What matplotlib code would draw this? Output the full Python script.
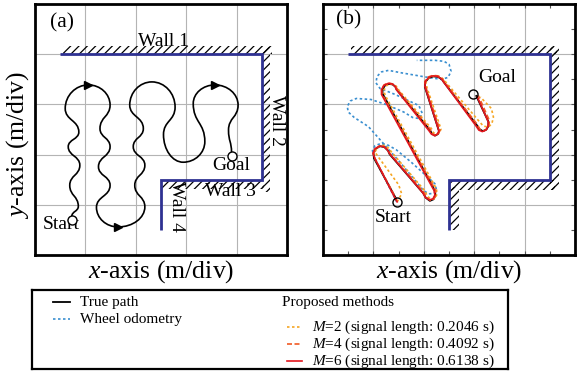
import matplotlib.pyplot as plt
from matplotlib.path import Path
from matplotlib.patches import PathPatch, Rectangle

plt.rcParams['font.family'] = ['Liberation Serif', 'DejaVu Serif']
plt.rcParams['mathtext.fontset'] = 'custom'
plt.rcParams['mathtext.rm'] = 'Liberation Serif'
plt.rcParams['mathtext.it'] = 'Liberation Serif:italic'
plt.rcParams['hatch.linewidth'] = 0.9

# walls (m/div), same layout in both panels
wall_x = [0.5, 4.5, 4.5, 2.5, 2.5]
wall_y = [4.0, 4.0, 1.5, 1.5, 0.5]

# (a) planned route, waypoints at the bulges / loop tops of the curve
# 'v' = vertical tangent at that point, 'h' = horizontal tangent
route_x = [0.73, 0.86, 0.69, 0.89, 0.66, 0.87, 0.60, 1.06, 1.49, 1.29, 1.49,
           1.26, 1.49, 1.22, 1.65, 2.18, 1.98, 2.18, 1.95, 2.15, 1.88, 2.32,
           2.78, 2.55, 2.94, 3.37, 3.14, 3.57, 4.03, 3.84, 3.90]
route_y = [0.77, 0.97, 1.39, 1.79, 2.16, 2.45, 2.92, 3.39, 2.99, 2.52, 2.16,
           1.76, 1.39, 0.95, 0.56, 0.96, 1.39, 1.79, 2.16, 2.52, 2.99, 3.45,
           2.95, 2.40, 1.85, 2.26, 3.02, 3.39, 2.99, 2.49, 2.04]
route_tan = "vvvvvvvhvvvvvvhvvvvvvhvvhvvhvvv"
arrow_idx = [7, 14, 27]
start_a = (0.73, 0.70)
goal_a = (3.90, 1.97)

# (b) experiment
true_x = [1.45, 1.01, 1.00, 1.05, 1.13, 1.22, 1.29, 1.32, 1.99, 2.04, 2.12,
          2.19, 2.23, 2.22, 1.18, 1.18, 1.23, 1.30, 1.38, 1.44, 1.46, 2.12,
          2.16, 2.22, 2.28, 2.30, 2.02, 2.03, 2.10, 2.19, 2.28, 2.36, 2.40,
          3.05, 3.10, 3.17, 3.24, 3.28, 3.28, 3.04]
true_y = [1.12, 1.93, 2.03, 2.12, 2.17, 2.15, 2.08, 2.01, 1.23, 1.14, 1.08,
          1.11, 1.19, 1.28, 3.22, 3.30, 3.38, 3.41, 3.40, 3.35, 3.30, 2.49,
          2.42, 2.38, 2.41, 2.47, 3.35, 3.45, 3.53, 3.56, 3.55, 3.50, 3.44,
          2.59, 2.51, 2.47, 2.50, 2.57, 2.66, 3.17]

odo_x = [1.46, 1.36, 1.18, 1.02, 0.98, 1.03, 1.14, 1.27, 1.45, 1.75, 2.08,
         2.22, 2.25, 2.20, 2.10, 2.00, 1.50, 0.90, 0.62, 0.50, 0.48, 0.54,
         0.66, 0.95, 1.25, 1.60, 1.78, 1.91, 1.97, 1.90, 1.43, 1.13, 1.05,
         1.07, 1.16, 1.30, 1.56, 2.02, 2.35, 2.48, 2.54, 2.50, 2.40, 2.22, 1.86]
odo_y = [1.06, 1.26, 1.62, 1.95, 2.08, 2.18, 2.22, 2.20, 2.10, 1.85, 1.55,
         1.42, 1.30, 1.23, 1.22, 1.28, 1.88, 2.56, 2.74, 2.85, 2.96, 3.07,
         3.12, 3.10, 3.00, 2.85, 2.74, 2.72, 2.82, 2.98, 3.20, 3.32, 3.43,
         3.56, 3.65, 3.68, 3.63, 3.55, 3.50, 3.54, 3.66, 3.80, 3.86, 3.88, 3.88]

m2_x = [1.47, 1.56, 1.50, 1.10, 1.03, 1.07, 1.15, 1.24, 1.31, 1.36, 2.02,
        2.07, 2.15, 2.22, 2.26, 2.25, 1.25, 1.20, 1.24, 1.31, 1.40, 1.47,
        1.50, 2.15, 2.19, 2.25, 2.31, 2.34, 2.06, 2.04, 2.10, 2.20, 2.30,
        2.38, 2.44, 3.10, 3.18, 3.28, 3.35, 3.38, 3.34, 3.12]
m2_y = [1.06, 1.22, 1.40, 1.95, 2.05, 2.14, 2.19, 2.18, 2.12, 2.05, 1.28,
        1.17, 1.11, 1.13, 1.21, 1.32, 3.15, 3.27, 3.36, 3.41, 3.40, 3.35,
        3.29, 2.52, 2.44, 2.40, 2.44, 2.51, 3.34, 3.44, 3.53, 3.57, 3.56,
        3.51, 3.44, 2.66, 2.57, 2.55, 2.62, 2.75, 2.92, 3.15]

m4_x = [1.47, 1.43, 1.04, 1.00, 1.04, 1.12, 1.21, 1.28, 1.33, 2.00, 2.05,
        2.13, 2.20, 2.24, 2.23, 1.17, 1.16, 1.21, 1.29, 1.38, 1.44, 1.47,
        2.13, 2.17, 2.23, 2.29, 2.32, 2.03, 2.02, 2.09, 2.18, 2.28, 2.36,
        2.41, 3.06, 3.11, 3.18, 3.25, 3.29, 3.30, 3.08]
m4_y = [1.06, 1.16, 1.90, 2.01, 2.11, 2.17, 2.16, 2.10, 2.02, 1.25, 1.15,
        1.09, 1.12, 1.20, 1.30, 3.21, 3.31, 3.39, 3.43, 3.41, 3.36, 3.31,
        2.50, 2.42, 2.38, 2.42, 2.49, 3.37, 3.46, 3.55, 3.58, 3.57, 3.52,
        3.45, 2.60, 2.51, 2.47, 2.51, 2.58, 2.68, 3.18]

m6_x = [1.47, 1.42, 1.03, 0.99, 1.03, 1.12, 1.21, 1.28, 1.32, 1.98, 2.03,
        2.11, 2.18, 2.22, 2.20, 1.16, 1.16, 1.21, 1.29, 1.37, 1.43, 1.45,
        2.10, 2.15, 2.21, 2.27, 2.30, 2.02, 2.03, 2.10, 2.18, 2.27, 2.35,
        2.39, 3.03, 3.09, 3.16, 3.23, 3.27, 3.28, 3.06]
m6_y = [1.06, 1.15, 1.92, 2.03, 2.12, 2.17, 2.16, 2.09, 2.02, 1.24, 1.15,
        1.10, 1.12, 1.20, 1.29, 3.20, 3.30, 3.38, 3.42, 3.41, 3.36, 3.30,
        2.48, 2.41, 2.38, 2.41, 2.47, 3.36, 3.46, 3.54, 3.57, 3.56, 3.51,
        3.45, 2.58, 2.49, 2.46, 2.49, 2.56, 2.65, 3.15]
start_b = (1.47, 1.06)
goal_b = (2.97, 3.20)

WALL_C = '#2e3192'
ODO_C = '#3a8fd0'
M2_C = '#f5a623'
M4_C = '#f15a24'
M6_C = '#e3161e'


def smooth_route(xs, ys, tans):
    # cubic segments between waypoints, handles along the given tangent
    verts = [(xs[0], ys[0])]
    codes = [Path.MOVETO]
    for i in range(len(xs) - 1):
        x0, y0, x1, y1 = xs[i], ys[i], xs[i + 1], ys[i + 1]
        dx, dy = x1 - x0, y1 - y0
        k = 0.5 if tans[i] == tans[i + 1] else 0.55
        c1 = (x0, y0 + k * dy) if tans[i] == 'v' else (x0 + k * dx, y0)
        c2 = (x1, y1 - k * dy) if tans[i + 1] == 'v' else (x1 - k * dx, y1)
        verts += [c1, c2, (x1, y1)]
        codes += [Path.CURVE4] * 3
    return Path(verts, codes)


def setup_panel(ax, ticks):
    ax.set_xlim(0, 5)
    ax.set_ylim(0, 5)
    ax.set_xticks([1, 2, 3, 4])
    ax.set_yticks([1, 2, 3, 4])
    ax.grid(True, color='#b4b4b4', lw=0.8)
    ax.set_axisbelow(True)
    ax.tick_params(labelbottom=False, labelleft=False)
    if ticks:
        ax.set_xticks([0.5, 1.5, 2.5, 3.5, 4.5], minor=True)
        ax.set_yticks([0.5, 1.5, 2.5, 3.5, 4.5], minor=True)
        ax.tick_params(which='both', direction='in', top=True, right=True,
                       length=3, width=0.8, color='#555555')
    else:
        ax.tick_params(length=0)
    for s in ax.spines.values():
        s.set_linewidth(2.0)


def draw_walls(ax, bands):
    for (x, y, w, h) in bands:
        ax.add_patch(Rectangle((x, y), w, h, fill=False, hatch='////',
                               edgecolor='black', linewidth=0))
    ax.plot(wall_x, wall_y, color=WALL_C, lw=2.0, solid_capstyle='butt',
            solid_joinstyle='miter', zorder=4)


fig = plt.figure(figsize=(5.8, 3.74), dpi=100)
ax1 = fig.add_axes([0.0603, 0.318, 0.4345, 0.671])
ax2 = fig.add_axes([0.557, 0.318, 0.4345, 0.671])

# ---- (a)
setup_panel(ax1, ticks=False)
draw_walls(ax1, [(0.55, 4.0, 4.15, 0.16), (4.5, 1.25, 0.16, 2.9),
                 (2.5, 1.32, 2.05, 0.18)])
ax1.add_patch(PathPatch(smooth_route(route_x, route_y, route_tan),
                        fill=False, lw=1.2, edgecolor='black', zorder=5))
ax1.plot([route_x[i] for i in arrow_idx], [route_y[i] for i in arrow_idx],
         ls='none', marker='>', ms=6, color='black', zorder=6)
ax1.plot(*start_a, marker='o', ms=6.5, mfc='white', mec='black', mew=1.0, zorder=6)
ax1.plot(*goal_a, marker='o', ms=6.5, mfc='white', mec='black', mew=1.0, zorder=6)

tk = dict(fontsize=14, ha='center', va='center')
ax1.text(0.53, 4.62, '(a)', fontsize=15.5, ha='center', va='center')
ax1.text(2.55, 4.25, 'Wall 1', **tk)
ax1.text(4.80, 2.69, 'Wall 2', rotation=-90, **tk)
ax1.text(3.87, 1.26, 'Wall 3', **tk)
ax1.text(2.80, 0.96, 'Wall 4', rotation=-90, **tk)
ax1.text(0.53, 0.61, 'Start', **tk)
ax1.text(3.90, 1.78, 'Goal', **tk)
ax1.text(0.5, -0.065, '$x$-axis (m/div)', transform=ax1.transAxes,
         fontsize=18.5, ha='center', va='center')
ax1.text(-0.07, 0.44, '$y$-axis (m/div)', transform=ax1.transAxes,
         fontsize=18.5, ha='center', va='center', rotation=90)

# ---- (b)
setup_panel(ax2, ticks=True)
draw_walls(ax2, [(0.55, 4.0, 4.1, 0.17), (4.5, 1.3, 0.18, 2.85),
                 (2.5, 1.3, 2.1, 0.2), (2.5, 0.5, 0.19, 0.85)])
ax2.plot(odo_x, odo_y, color=ODO_C, lw=1.2, ls=(0, (1.5, 1.5)), zorder=5)
ax2.plot(true_x, true_y, color='black', lw=1.3, zorder=6)
ax2.plot(m2_x, m2_y, color=M2_C, lw=1.2, ls=(0, (1.5, 1.5)), zorder=7)
ax2.plot(m4_x, m4_y, color=M4_C, lw=1.2, ls=(0, (3, 1.5)), zorder=8)
ax2.plot(m6_x, m6_y, color=M6_C, lw=1.2, zorder=9)
ax2.plot(*start_b, marker='o', ms=6.5, mfc='none', mec='black', mew=1.0, zorder=10)
ax2.plot(*goal_b, marker='o', ms=6.5, mfc='none', mec='black', mew=1.0, zorder=10)
ax2.text(0.50, 4.68, '(b)', fontsize=15.5, ha='center', va='center')
ax2.text(3.45, 3.54, 'Goal', **tk)
ax2.text(1.40, 0.75, 'Start', **tk)
ax2.text(0.5, -0.065, '$x$-axis (m/div)', transform=ax2.transAxes,
         fontsize=18.5, ha='center', va='center')

# ---- legend box (pixel-like coords inside the box, y downwards)
lax = fig.add_axes([0.055, 0.013, 0.821, 0.212])
lax.set_xlim(0, 476)
lax.set_ylim(79, 0)
lax.set_xticks([])
lax.set_yticks([])
for s in lax.spines.values():
    s.set_linewidth(1.6)

lfs = 11
lax.plot([21, 38], [12.5, 12.5], color='black', lw=1.3)
lax.text(48, 12.5, 'True path', fontsize=lfs, va='center')
lax.plot([21, 38], [29.5, 29.5], color=ODO_C, lw=1.2, ls=(0, (1.5, 1.5)))
lax.text(48, 29.5, 'Wheel odometry', fontsize=lfs, va='center')
lax.text(250, 12.5, 'Proposed methods', fontsize=lfs, va='center')
entries = [(M2_C, (0, (1.5, 1.5)), '$M$=2 (signal length: 0.2046 s)', 37),
           (M4_C, (0, (3, 1.5)), '$M$=4 (signal length: 0.4092 s)', 54),
           (M6_C, '-', '$M$=6 (signal length: 0.6138 s)', 71)]
for c, ls, lab, yy in entries:
    lax.plot([255, 270], [yy, yy], color=c, lw=1.2, ls=ls)
    lax.text(280, yy, lab, fontsize=lfs, va='center')

fig.savefig('out.png', dpi=100)
